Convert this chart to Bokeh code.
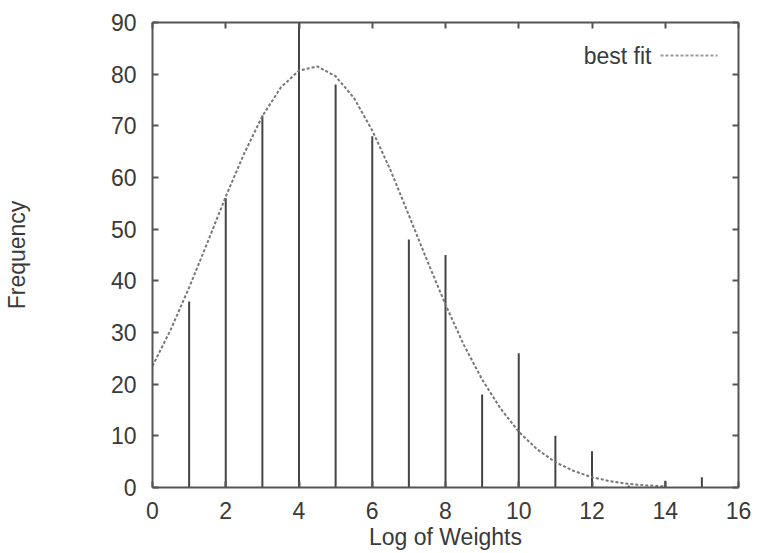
from bokeh.plotting import figure
from bokeh.models import LinearAxis, Range1d, FixedTicker, Label, Arrow
from bokeh.embed import file_html
from bokeh.resources import INLINE

# Histogram impulses (log of weights -> frequency)
bin_x = [1, 2, 3, 4, 5, 6, 7, 8, 9, 10, 11, 12, 13, 14, 15]
bin_freq = [36, 56, 72, 95, 78, 68, 48, 45, 18, 26, 10, 7, 0.4, 1.3, 2]

# Best fit curve
fit_x = [0, 0.5, 1, 1.5, 2, 2.5, 3, 3.5, 4, 4.5, 5, 5.5, 6, 6.5, 7, 7.5, 8,
         8.5, 9, 9.5, 10, 10.5, 11, 11.5, 12, 12.5, 13, 13.5, 14]
fit_y = [23.5, 30.6, 38.7, 47.4, 56.3, 64.6, 71.9, 77.4, 80.7, 81.5, 79.6,
         75.4, 69.1, 61.4, 52.7, 43.9, 35.4, 27.6, 20.9, 15.3, 10.8, 7.4,
         4.9, 3.2, 2.0, 1.2, 0.7, 0.4, 0.2]

x_ticks = [0, 2, 4, 6, 8, 10, 12, 14, 16]
y_ticks = [0, 10, 20, 30, 40, 50, 60, 70, 80, 90]

FONT = "Liberation Sans"
AX = "#555555"
TXT = "#3a3a3a"

p = figure(width=756, height=553, output_backend="svg", toolbar_location=None,
           x_range=Range1d(0, 16), y_range=Range1d(0, 90),
           min_border_left=152, min_border_right=18, min_border_top=22,
           min_border_bottom=66, outline_line_color=None,
           background_fill_color="white", border_fill_color="white")
p.grid.visible = False

p.segment(x0=bin_x, y0=[0] * len(bin_x), x1=bin_x, y1=bin_freq,
          line_color="#444444", line_width=2)
p.line(fit_x, fit_y, line_color="#777777", line_width=2, line_dash="3 2")

def style(ax, labels=True):
    ax.axis_line_color = AX
    ax.axis_line_width = 2
    ax.major_tick_line_color = AX
    ax.major_tick_line_width = 2
    ax.major_tick_in = 6
    ax.major_tick_out = 0
    ax.minor_tick_line_color = None
    if labels:
        ax.major_label_text_font = FONT
        ax.major_label_text_font_size = "23px"
        ax.major_label_text_color = TXT
        ax.axis_label_text_font = FONT
        ax.axis_label_text_font_size = "23px"
        ax.axis_label_text_font_style = "normal"
        ax.axis_label_text_color = TXT
    else:
        ax.major_label_overrides = {t: "" for t in ax.ticker.ticks}
        ax.major_label_standoff = 0

xa = p.xaxis[0]
xa.ticker = FixedTicker(ticks=x_ticks)
xa.axis_label = "Log of Weights"
style(xa)
xa.major_label_standoff = 14
xa.axis_label_standoff = 2

ya = p.yaxis[0]
ya.ticker = FixedTicker(ticks=y_ticks)
ya.axis_label = "Frequency"
style(ya)
ya.major_label_standoff = 16
ya.axis_label_standoff = 78

top = LinearAxis(ticker=FixedTicker(ticks=x_ticks))
style(top, labels=False)
p.add_layout(top, "above")
right = LinearAxis(ticker=FixedTicker(ticks=y_ticks))
style(right, labels=False)
p.add_layout(right, "right")

# legend: label left of the sample line, top right
p.add_layout(Label(x=499, y=432, x_units="screen", y_units="screen",
                   text="best fit", text_align="right", text_baseline="middle",
                   text_font=FONT, text_font_size="23px", text_color=TXT))
p.add_layout(Arrow(end=None, x_start=508, y_start=432, x_end=565, y_end=432,
                   start_units="screen", end_units="screen",
                   line_color="#999999", line_width=2, line_dash="3 2"))

open("out.html", "w").write(file_html(p, INLINE))
